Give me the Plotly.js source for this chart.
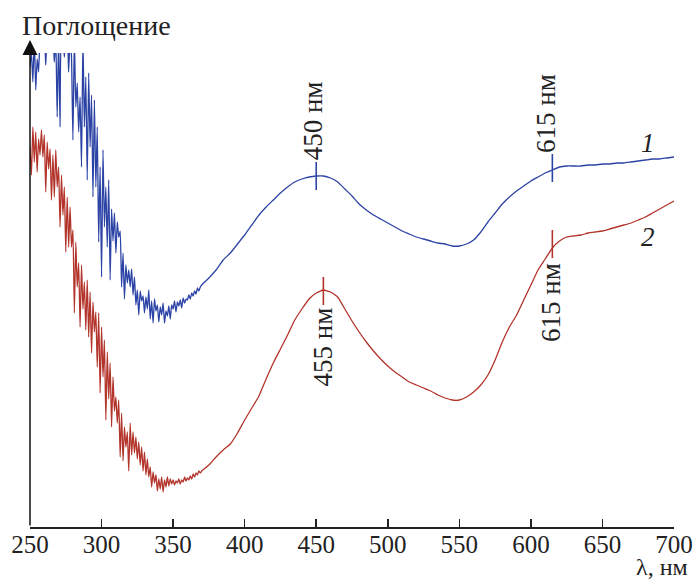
<!DOCTYPE html>
<html>
<head>
<meta charset="utf-8">
<script src="https://cdn.plot.ly/plotly-3.0.1.min.js"></script>
<style>html,body{margin:0;padding:0;background:#fff;}#chart{width:693px;height:583px;}</style>
</head>
<body>
<div id="chart"></div>
<script>
// Wavelength grid (nm), noisy UV part measured at 1 nm, smooth part at 5 nm
const wlNoisy = [250,251,252,253,254,255,256,257,258,259,260,261,262,263,264,265,266,267,268,269,
270,271,272,273,274,275,276,277,278,279,280,281,282,283,284,285,286,287,288,289,
290,291,292,293,294,295,296,297,298,299,300,301,302,303,304,305,306,307,308,309,
310,311,312,313,314,315,316,317,318,319,320,321,322,323,324,325,326,327,328,329,
330,331,332,333,334,335,336,337,338,339,340,341,342,343,344,345,346,347,348,349,
350,351,352,353,354,355,356,357,358,359,360,361,362,363,364,365,366,367,368,369];
const wlSmooth = [370,375,380,385,390,395,400,405,410,415,420,425,430,435,440,445,450,455,460,465,
470,475,480,485,490,495,500,505,510,515,520,525,530,535,540,545,550,555,560,565,
570,575,580,585,590,595,600,605,610,615,620,625,630,635,640,645,650,655,660,665,
670,675,680,685,690,695,700];

// Absorbance, arbitrary units — curve 1 (blue)
const abs1Noisy = [460,474,445,490,437,468,455,490,478,490,
490,462,490,490,475,490,490,465,490,410,
490,400,490,490,470,490,490,455,490,470,
387,490,420,444,395,430,360,490,400,450,
347,454,380,432,330,427,340,400,285,360,
250,377,300,340,280,347,247,318,286,314,
274,305,290,296,240,274,228,262,244,257,
240,258,232,250,222,237,212,236,226,231,
214,230,218,237,208,226,204,228,216,222,
205,220,212,224,204,216,211,221,208,222,
218,226,215,225,221,227,219,229,224,228,
227,232,228,234,231,236,233,239,236,240];
const abs1Smooth = [242,249,257,267,274,283,292,302,312,320,327,334,340,345,348,350,351,351,349,345,
338,331,323,317,312,308,304,300,296,293,290,288,286,284,283,281,281,283,287,295,
305,314,323,330,336,341,346,350,354,357,360,361,361,361,362,362,363,363,364,364,
365,366,367,368,368,369,370];

// Absorbance, arbitrary units — curve 2 (red)
const abs2Noisy = [380,352,400,365,395,355,388,372,397,370,
392,335,385,358,378,327,372,330,377,340,
360,300,352,312,340,275,330,280,320,280,
297,214,285,240,264,200,262,218,245,197,
247,190,235,174,225,195,215,160,214,134,
200,150,187,107,175,128,164,100,150,116,
130,104,127,70,114,66,100,80,95,56,
104,72,95,74,90,68,85,62,80,56,
75,52,68,50,60,40,55,44,52,36,
48,38,50,35,47,40,50,41,48,43,
47,42,46,44,48,43,47,45,50,46,
49,47,51,48,53,50,54,52,56,54];
const abs2Smooth = [56,62,70,77,83,94,107,119,131,148,164,178,192,207,218,228,234,237,235,230,
218,206,195,185,176,168,161,155,150,145,142,139,136,132,129,127,127,130,135,142,
152,167,185,200,212,227,242,257,268,279,286,290,291,292,294,295,296,298,300,302,
304,307,310,314,318,322,326];

// Marked band positions
const peaks1Wl = [450, 615];
const peaks1Abs = [351, 359];
const peaks2Wl = [455, 615];
const peaks2Abs = [236, 283];
const peakLabels1 = ['450 нм', '615 нм'];
const peakLabels2 = ['455 нм', '615 нм'];
const xTicks = [250,300,350,400,450,500,550,600,650,700];

const blue = '#2c43a6';
const red = '#b3342b';
const serif = '"Liberation Serif", "Times New Roman", serif';
const ink = '#222';

const traces = [
  {x: wlNoisy.concat(wlSmooth), y: abs1Noisy.concat(abs1Smooth), mode: 'lines',
   line: {color: blue, width: 1.3, shape: 'spline', smoothing: 0.4}, hoverinfo: 'skip'},
  {x: wlNoisy.concat(wlSmooth), y: abs2Noisy.concat(abs2Smooth), mode: 'lines',
   line: {color: red, width: 1.3, shape: 'spline', smoothing: 0.4}, hoverinfo: 'skip'},
  {x: peaks1Wl, y: peaks1Abs, mode: 'markers',
   marker: {symbol: 'line-ns-open', size: 20, color: blue, line: {color: blue, width: 1.6}}},
  {x: peaks2Wl, y: peaks2Abs, mode: 'markers',
   marker: {symbol: 'line-ns-open', size: 20, color: red, line: {color: red, width: 1.6}}}
];

const annotations = [
  {x: 448, y: 406, xref: 'x', yref: 'y', text: peakLabels1[0], textangle: -90, showarrow: false,
   font: {family: serif, size: 27, color: ink}},
  {x: 610.5, y: 414, xref: 'x', yref: 'y', text: peakLabels1[1], textangle: -90, showarrow: false,
   font: {family: serif, size: 27, color: ink}},
  {x: 454.4, y: 180, xref: 'x', yref: 'y', text: peakLabels2[0], textangle: -90, showarrow: false,
   font: {family: serif, size: 27, color: ink}},
  {x: 614, y: 225, xref: 'x', yref: 'y', text: peakLabels2[1], textangle: -90, showarrow: false,
   font: {family: serif, size: 27, color: ink}},
  {x: 681.7, y: 384, xref: 'x', yref: 'y', text: '<i>1</i>', showarrow: false,
   font: {family: serif, size: 27, color: ink}},
  {x: 681.7, y: 290, xref: 'x', yref: 'y', text: '<i>2</i>', showarrow: false,
   font: {family: serif, size: 27, color: ink}},
  {x: -0.0155, y: 1.059, xref: 'paper', yref: 'paper', xanchor: 'left', yanchor: 'middle',
   text: 'Поглощение', showarrow: false, font: {family: serif, size: 28, color: ink}},
  {x: 1.0248, y: -0.0844, xref: 'paper', yref: 'paper', xanchor: 'right', yanchor: 'middle',
   text: 'λ, нм', showarrow: false, font: {family: serif, size: 24, color: ink}},
  // y axis with arrow
  {x: 250, y: 1.0274, xref: 'x', yref: 'paper', text: '', showarrow: true,
   ax: 0, ay: 487, axref: 'pixel', ayref: 'pixel',
   arrowhead: 2, arrowsize: 2, arrowwidth: 1.5, arrowcolor: '#111'}
];

const layout = {
  width: 693, height: 583,
  margin: {l: 30, r: 19, t: 53, b: 56, pad: 0},
  paper_bgcolor: '#fff', plot_bgcolor: '#fff',
  showlegend: false,
  font: {family: serif},
  xaxis: {range: [250, 700], tickvals: xTicks, ticktext: xTicks.map(String),
    ticks: 'inside', ticklen: 8, tickwidth: 1.5, tickcolor: ink,
    ticklabelstandoff: -6,
    showline: true, linewidth: 1.5, linecolor: ink, showgrid: false, zeroline: false,
    tickfont: {family: serif, size: 25, color: ink}},
  yaxis: {range: [0, 474], showline: false, showticklabels: false, ticks: '',
    showgrid: false, zeroline: false},
  annotations: annotations
};

Plotly.newPlot('chart', traces, layout, {staticPlot: true});
</script>
</body>
</html>
